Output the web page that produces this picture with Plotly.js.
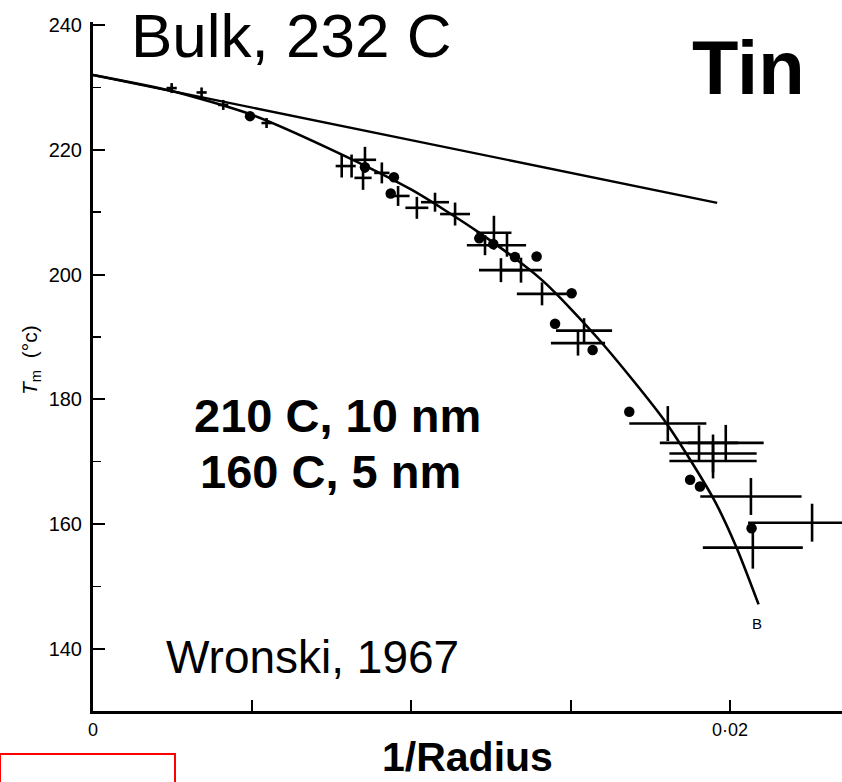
<!DOCTYPE html>
<html>
<head>
<meta charset="utf-8">
<script src="https://cdn.plot.ly/plotly-3.0.1.min.js"></script>
<style>html,body{margin:0;padding:0;background:#fff;}#chart{width:842px;height:782px;}</style>
</head>
<body>
<div id="chart"></div>
<script>
// Straight (bulk extrapolation) line
const lineX = [0, 0.0196];
const lineY = [232, 211.5];

// Curve B
const curveX = [0, 0.0025, 0.005, 0.0075, 0.01, 0.0121, 0.0141, 0.0159, 0.018, 0.0195, 0.0202, 0.0209];
const curveY = [232, 229.4, 225.6, 220.0, 213.6, 206.8, 199.1, 189.5, 176.2, 163.9, 156.3, 147.1];

// Data with error bars (crosses)
const crossX = [0.00247, 0.00341, 0.00409, 0.00545, 0.00781, 0.00812, 0.00854, 0.00848, 0.00907, 0.00958, 0.01017, 0.01074, 0.01137, 0.01259, 0.01231, 0.01300, 0.01281, 0.01344, 0.01410, 0.01542, 0.01523, 0.01805, 0.01903, 0.01987, 0.01947, 0.01947, 0.02066, 0.02258, 0.02072];
const crossY = [229.9, 229.2, 227.2, 224.3, 217.4, 217.4, 218.4, 215.5, 216.3, 212.6, 210.7, 211.6, 209.7, 206.7, 204.7, 204.7, 200.7, 200.7, 196.9, 191.0, 189.0, 176.1, 173.0, 173.0, 171.3, 170.1, 164.4, 160.2, 156.2];
const crossErrX = [0.00016, 0.00016, 0.00016, 0.00016, 0.00019, 0.00013, 0.00035, 0.00027, 0.00024, 0.00036, 0.00036, 0.00044, 0.00047, 0.00055, 0.00057, 0.00060, 0.00069, 0.00066, 0.00079, 0.00088, 0.00085, 0.00121, 0.00123, 0.00119, 0.00137, 0.00137, 0.00159, 0.00201, 0.00157];
const crossErrY = [0.8, 0.8, 0.8, 0.8, 1.84, 1.84, 2.08, 1.92, 1.68, 1.6, 1.76, 1.52, 1.84, 2.72, 1.6, 1.84, 1.92, 2.0, 1.84, 2.0, 2.0, 2.8, 2.8, 2.88, 3.04, 2.8, 2.96, 3.04, 3.37];

// Filled dots
const dotX = [0.00493, 0.00854, 0.00945, 0.00935, 0.01213, 0.01257, 0.01325, 0.01393, 0.01503, 0.01451, 0.01569, 0.01684, 0.01875, 0.01906, 0.02068];
const dotY = [225.4, 217.2, 215.6, 213.0, 205.8, 204.9, 202.8, 202.9, 197.0, 192.1, 187.9, 178.0, 167.1, 166.0, 159.3];

// Axis ticks
const xTickVals = [0, 0.02];
const xTickText = ['0', '0·02'];
const yTickVals = [140, 160, 180, 200, 220, 240];

const W = 842, H = 782, L = 93, R = 0, T = 22, B = 71;
const pw = W - L - R, ph = H - T - B;
const px = v => (v - L) / pw;
const py = v => (H - B - v) / ph;

const traces = [
  {x: lineX, y: lineY, mode: 'lines', line: {color: '#000', width: 2.4}, hoverinfo: 'skip'},
  {x: curveX, y: curveY, mode: 'lines', line: {color: '#000', width: 2.6, shape: 'spline', smoothing: 0.7}, hoverinfo: 'skip'},
  {x: crossX, y: crossY, mode: 'markers', marker: {size: 2, color: 'rgba(0,0,0,0)'},
   error_x: {type: 'data', array: crossErrX, visible: true, width: 0, thickness: 2.6, color: '#000'},
   error_y: {type: 'data', array: crossErrY, visible: true, width: 0, thickness: 2.6, color: '#000'}},
  {x: dotX, y: dotY, mode: 'markers', marker: {size: 10.5, color: '#000'}}
];

const fontSans = 'Liberation Sans, Arial, sans-serif';
const layout = {
  width: W, height: H,
  margin: {l: L, r: R, t: T, b: B, pad: 0},
  paper_bgcolor: '#fff', plot_bgcolor: '#fff',
  showlegend: false,
  font: {family: fontSans, color: '#000'},
  xaxis: {
    range: [0, 0.02352], showline: true, linecolor: '#000', linewidth: 3,
    ticks: 'inside', ticklen: 11, tickwidth: 2, tickcolor: '#000',
    tickvals: xTickVals, ticktext: xTickText,
    minor: {dtick: 0.005, tick0: 0, ticks: 'inside', ticklen: 11, tickwidth: 2, tickcolor: '#000'},
    tickfont: {size: 18, family: fontSans}, showgrid: false, zeroline: false, fixedrange: true
  },
  yaxis: {
    range: [130, 240.5], showline: true, linecolor: '#000', linewidth: 3,
    ticks: 'inside', ticklen: 12, tickwidth: 2, tickcolor: '#000',
    tickvals: yTickVals, tickfont: {size: 20, family: fontSans},
    minor: {dtick: 10, tick0: 130, ticks: 'inside', ticklen: 8, tickwidth: 1.5, tickcolor: '#000'},
    showgrid: false, zeroline: false, fixedrange: true, ticklabelstandoff: 4
  },
  annotations: [
    {xref: 'paper', yref: 'paper', x: px(291.5), y: py(0), text: 'Bulk, 232 C', showarrow: false, font: {size: 62, family: fontSans}, xanchor: 'center', yanchor: 'top', borderpad: 0},
    {xref: 'paper', yref: 'paper', x: px(748.5), y: py(67), text: '<b>Tin</b>', showarrow: false, font: {size: 76, family: fontSans}, xanchor: 'center', yanchor: 'middle'},
    {xref: 'paper', yref: 'paper', x: px(337), y: py(415), text: '<b>210 C, 10 nm</b>', showarrow: false, font: {size: 47, family: fontSans}, xanchor: 'center', yanchor: 'middle'},
    {xref: 'paper', yref: 'paper', x: px(330), y: py(471), text: '<b>160 C, 5 nm</b>', showarrow: false, font: {size: 47, family: fontSans}, xanchor: 'center', yanchor: 'middle'},
    {xref: 'paper', yref: 'paper', x: px(312), y: py(657), text: 'Wronski, 1967', showarrow: false, font: {size: 46, family: fontSans}, xanchor: 'center', yanchor: 'middle'},
    {xref: 'paper', yref: 'paper', x: px(467), y: py(757), text: '<b>1/Radius</b>', showarrow: false, font: {size: 41, family: fontSans}, xanchor: 'center', yanchor: 'middle'},
    {xref: 'paper', yref: 'paper', x: px(757), y: py(623), text: 'B', showarrow: false, font: {size: 15, family: fontSans}, xanchor: 'center', yanchor: 'middle'},
    {xref: 'paper', yref: 'paper', x: px(31), y: py(360), text: '<i>T</i><sub>m</sub>  (°c)', textangle: -90, showarrow: false, font: {size: 21, family: fontSans}, xanchor: 'center', yanchor: 'middle'}
  ],
  shapes: [
    {type: 'rect', xref: 'paper', yref: 'paper', x0: px(0), x1: px(175), y0: py(800), y1: py(754), line: {color: '#ff0000', width: 2}, fillcolor: 'rgba(0,0,0,0)', layer: 'above'}
  ]
};

Plotly.newPlot('chart', traces, layout, {displayModeBar: false, staticPlot: true});
</script>
</body>
</html>
